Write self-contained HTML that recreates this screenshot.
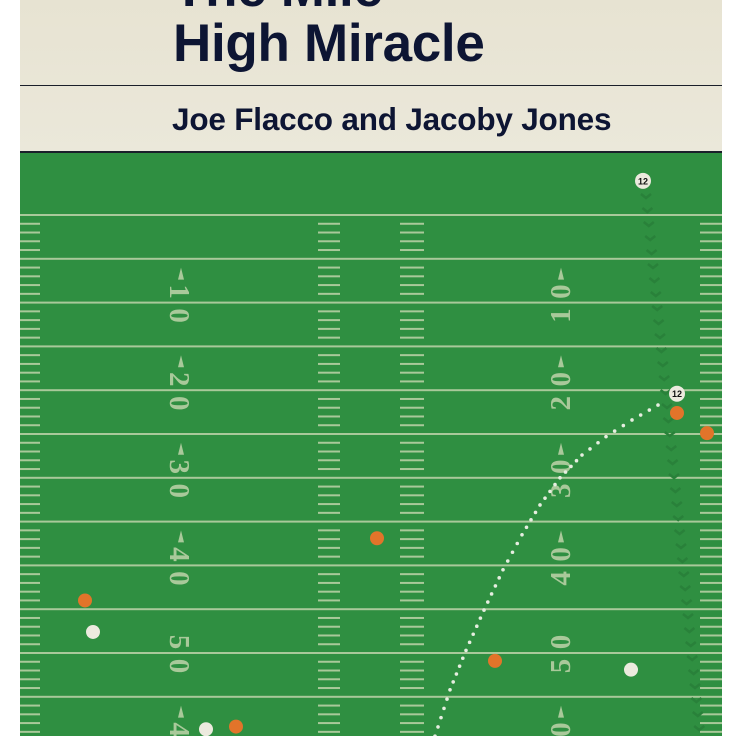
<!DOCTYPE html>
<html><head><meta charset="utf-8"><style>
html,body{margin:0;padding:0;background:#fff;}
#wrap{position:relative;width:740px;height:736px;overflow:hidden;background:#fff;font-family:"Liberation Sans",sans-serif;}
#paper{position:absolute;left:20px;top:0;width:702px;height:153px;background:linear-gradient(180deg,#e7e3d2,#ebe8da);}
.t{position:absolute;left:153px;font-weight:bold;color:#0d1533;white-space:nowrap;}
</style></head><body>
<div id="wrap">
<div id="paper">
  <div class="t" style="top:-42px;font-size:53px;letter-spacing:-0.3px">The Mile</div>
  <div class="t" style="top:13px;font-size:53px;letter-spacing:-0.3px">High Miracle</div>
  <div style="position:absolute;left:0;top:85px;width:702px;height:1px;background:#1a1f2a"></div>
  <div class="t" style="left:152px;top:101px;font-size:31.5px;letter-spacing:-0.2px">Joe Flacco and Jacoby Jones</div>
  <div style="position:absolute;left:0;top:151px;width:702px;height:2px;background:#1a1f2a"></div>
</div>
<svg id="field" width="740" height="736" style="position:absolute;left:0;top:0"></svg>
</div>
<script>
const yardLines=[0,5,10,15,20,25,30,35,40,45,50,55,60];
const numberYards=[10,20,30,40,50,60];
const numberLabels=["10","20","30","40","50","40"];
const orangeX=[85,377,495,677,707,236];
const orangeYd=[44.0,36.9,50.9,22.6,24.9,58.4];
const whiteX=[93,631,206];
const whiteYd=[47.6,51.9,58.7];
const jerseyX=[643,677];
const jerseyYd=[-3.9,20.4];
const passX=[435,450,466,484,503,522,540,560,582,606,632,658,668];
const passYd=[59.5,54.2,49.7,45.1,40.5,36.5,33.1,30.0,27.4,25.3,23.4,21.7,20.9];
const NS="http://www.w3.org/2000/svg";
const svg=document.getElementById('field');
const Y=yd=>215+yd*8.76;
function mk(t,a){const e=document.createElementNS(NS,t);for(const k in a)e.setAttribute(k,a[k]);svg.appendChild(e);return e;}
const bg=mk('rect',{x:20,y:153,width:702,height:583,fill:'#2f8f41'});


const LC='#a9c99a';
yardLines.forEach(yd=>{
 const l=mk('rect',{x:20,y:Y(yd)-1,width:702,height:2,fill:LC});
 
 
 for(let k=1;k<5;k++){
  const yy=Y(yd+k);
  [[20,40],[318,340],[400,424],[700,722]].forEach(([a,b])=>{
   const h=mk('rect',{x:a,y:yy-1,width:b-a,height:2,fill:LC});
   
   
  });
 }
});
function digit(ch,cx,cy,rot){
 const t=mk('text',{x:0,y:10,transform:`translate(${cx},${cy}) rotate(${rot})`,'font-family':'Liberation Serif, serif','font-weight':'bold','font-size':'29','fill':LC,'text-anchor':'middle'});
 t.textContent=ch;
 return t;
}
numberYards.forEach((yd,i)=>{
 const cy=Y(yd);
 const s=numberLabels[i];
 const a1=digit(s[0],180,cy-11,90);
 
 
 const a2=digit(s[1],180,cy+13,90);
 
 
 const b1=digit(s[0],560,cy+13,-90);
 
 
 const b2=digit(s[1],560,cy-11,-90);
 
 
 if(yd!==50){
  const a=mk('polygon',{points:`${181},${cy-35} ${178},${cy-23} ${184},${cy-23}`,fill:LC});
  
  
  const b=mk('polygon',{points:`${561},${cy-35} ${558},${cy-23} ${564},${cy-23}`,fill:LC});
  
  
 }
});
for(let i=0;i<40;i++){
 const yy=198+i*14; const xx=646+i*1.4;
 const c=mk('polyline',{points:`${xx-5},${yy-4} ${xx},${yy} ${xx+5},${yy-4}`,stroke:'#29813a',fill:'none','stroke-width':2.5});
 
 
}
let pts=passX.map((x,i)=>[x,Y(passYd[i])]);
for(let i=0;i<pts.length-1;i++){
 const [x1,y1]=pts[i],[x2,y2]=pts[i+1];const d=Math.hypot(x2-x1,y2-y1);const n=Math.max(1,Math.round(d/9));
 for(let k=0;k<n;k++){const t=k/n;
  const c=mk('circle',{cx:x1+(x2-x1)*t,cy:y1+(y2-y1)*t,r:1.8,fill:'#e6eee0'});
  
  
 }
}
orangeX.forEach((x,i)=>{
 const c=mk('circle',{cx:x,cy:Y(orangeYd[i]),r:7,fill:'#e2742a'});
 
 
});
whiteX.forEach((x,i)=>{
 const c=mk('circle',{cx:x,cy:Y(whiteYd[i]),r:7,fill:'#eceade'});
 
 
});
jerseyX.forEach((x,i)=>{
 const cy=Y(jerseyYd[i]);
 const c=mk('circle',{cx:x,cy:cy,r:8,fill:'#eceade'});
 
 
 const t=mk('text',{x:x,y:cy+3.5,'font-size':'9','font-weight':'bold','text-anchor':'middle',fill:'#111','font-family':'Liberation Sans, sans-serif'});
 t.textContent='12';
 
 
});
</script>
</body></html>
